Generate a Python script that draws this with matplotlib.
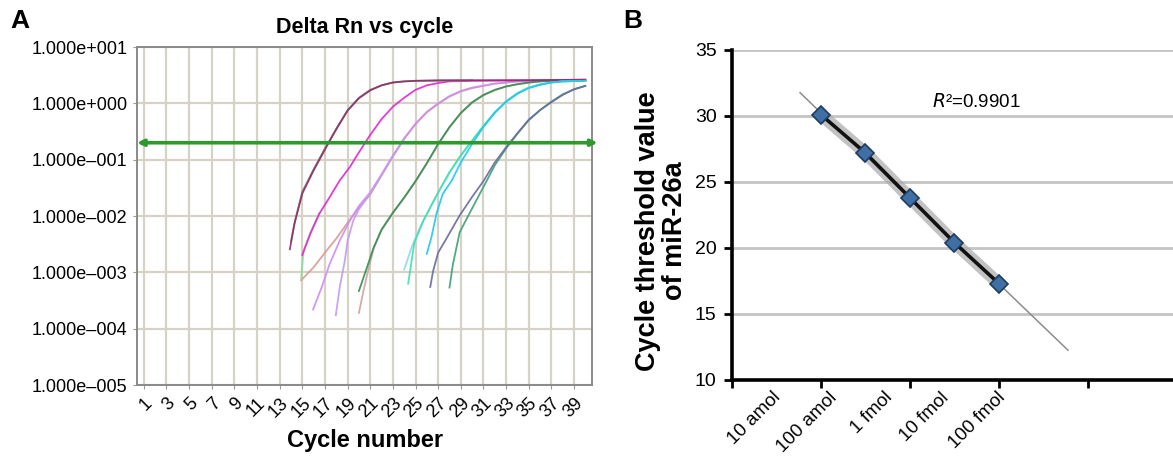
import numpy as np
import matplotlib
matplotlib.use('Agg')
import matplotlib.pyplot as plt
import matplotlib.transforms as mtransforms

plt.rcParams['font.family'] = ['Liberation Sans', 'DejaVu Sans']

# ---- panel A: amplification curves, log10(delta Rn) ----
maroon_x = [13.9, 14.3, 15, 16, 17, 18, 19, 20, 21, 22, 23, 24, 25, 27, 30, 35, 40]
maroon_y = [-2.59, -2.14, -1.60, -1.19, -0.82, -0.46, -0.13, 0.09, 0.23, 0.32, 0.37, 0.39, 0.40, 0.41, 0.41, 0.41, 0.42]
olive_x = [14.0, 14.4, 15, 16, 17, 18, 19, 20, 21, 22, 23, 24, 25, 27, 30]
olive_y = [-2.45, -2.05, -1.57, -1.17, -0.80, -0.45, -0.12, 0.10, 0.24, 0.32, 0.37, 0.39, 0.40, 0.40, 0.41]
lgreen_x = [14.9, 15.1, 15.7, 16.5]
lgreen_y = [-3.12, -2.62, -2.30, -1.95]
magenta_x = [15.0, 15.7, 16.5, 17.4, 18.3, 19.2, 20, 21, 22, 23, 24, 25, 26, 27, 28, 30, 35, 40]
magenta_y = [-2.69, -2.32, -1.96, -1.67, -1.37, -1.13, -0.87, -0.56, -0.28, -0.06, 0.10, 0.24, 0.32, 0.36, 0.39, 0.40, 0.41, 0.42]
salmon_x = [14.9, 16, 17, 18, 19, 20, 21, 22, 23, 24, 25, 26, 27, 28, 29, 30, 31, 32, 33, 34, 36, 40]
salmon_y = [-3.14, -2.91, -2.65, -2.40, -2.12, -1.85, -1.62, -1.28, -0.94, -0.63, -0.37, -0.16, -0.01, 0.12, 0.21, 0.27, 0.31, 0.35, 0.37, 0.39, 0.40, 0.41]
violet_x = [15.95, 16.7, 17.4, 18.3, 19.2, 20, 21, 22, 23, 24, 25, 26, 27, 28, 29, 30, 32, 34, 40]
violet_y = [-3.66, -3.27, -2.86, -2.44, -2.08, -1.82, -1.58, -1.26, -0.93, -0.62, -0.36, -0.15, 0.00, 0.13, 0.22, 0.28, 0.35, 0.39, 0.41]
lilac_x = [17.96, 18.3, 18.75, 19.0, 19.5, 20, 21, 22, 23, 24]
lilac_y = [-3.76, -3.27, -2.80, -2.44, -2.08, -1.88, -1.60, -1.27, -0.94, -0.63]
green_x = [20.0, 20.7, 21.3, 22, 23, 24, 25, 26, 27, 28, 29, 30, 31, 32, 33, 34, 35, 36, 38, 40]
green_y = [-3.33, -2.92, -2.56, -2.24, -1.94, -1.67, -1.38, -1.06, -0.72, -0.42, -0.17, 0.02, 0.15, 0.24, 0.30, 0.34, 0.37, 0.39, 0.40, 0.41]
pink_x = [20.0, 20.4, 20.8, 21.3, 22, 23, 24, 25, 26, 27, 28, 29, 30, 31, 32, 33, 34, 36]
pink_y = [-3.72, -3.33, -2.98, -2.58, -2.25, -1.95, -1.68, -1.39, -1.07, -0.73, -0.43, -0.18, 0.01, 0.14, 0.23, 0.30, 0.34, 0.39]
lblue_x = [24.0, 24.65, 25.4, 26.3, 27.1, 28, 29, 30, 31, 32, 33, 34, 35, 36, 37, 38, 40]
lblue_y = [-2.95, -2.56, -2.20, -1.85, -1.55, -1.24, -0.93, -0.67, -0.40, -0.16, 0.04, 0.18, 0.28, 0.34, 0.37, 0.39, 0.40]
mint_x = [24.35, 24.65, 24.9, 25.7, 26.6, 27.5, 28, 29, 30, 31, 32, 33, 34, 35, 36, 37, 38, 40]
mint_y = [-3.20, -2.80, -2.47, -2.08, -1.73, -1.40, -1.22, -0.92, -0.66, -0.40, -0.16, 0.03, 0.18, 0.28, 0.33, 0.37, 0.39, 0.40]
cyan_x = [26.0, 26.4, 26.85, 27.4, 28.2, 29, 30, 31, 32, 33, 34, 35, 36, 37, 38, 40]
cyan_y = [-2.67, -2.38, -1.96, -1.61, -1.37, -1.05, -0.72, -0.42, -0.17, 0.03, 0.17, 0.27, 0.33, 0.37, 0.39, 0.40]
slate_x = [26.3, 26.55, 27.0, 27.7, 28.9, 30, 31, 32, 33, 34, 35, 36, 37, 38, 39, 40]
slate_y = [-3.26, -2.98, -2.65, -2.41, -1.99, -1.66, -1.38, -1.05, -0.78, -0.53, -0.29, -0.12, 0.02, 0.15, 0.25, 0.31]
teal_x = [28.0, 28.3, 28.9, 29.8, 31.3, 32, 33, 34, 35, 36, 37, 38, 39, 40]
teal_y = [-3.27, -2.86, -2.29, -1.94, -1.37, -1.10, -0.80, -0.54, -0.30, -0.12, 0.03, 0.16, 0.25, 0.31]

threshold = 0.2
cycle_ticks = list(range(1, 40, 2))
decades = [1, 0, -1, -2, -3, -4, -5]

# ---- panel B: standard curve ----
conc_labels = ['10 amol', '100 amol', '1 fmol', '10 fmol', '100 fmol']
point_x = [2, 3, 4, 5, 6]
ct_values = [30.1, 27.2, 23.8, 20.4, 17.3]
r2_text = '0.9901'

fig = plt.figure(figsize=(11.73, 4.57), dpi=100)

# ================= panel A =================
axA = fig.add_axes([0.1168, 0.1575, 0.388, 0.7396])
grid_col = '#d6d2c6'
axA.set_yscale('log')
axA.set_xlim(0.4, 40.6)
axA.set_ylim(1e-5, 1e1)
for c in cycle_ticks:
    axA.axvline(c, color=grid_col, lw=1.6, zorder=0)
for d in decades:
    axA.axhline(10.0 ** d, color=grid_col, lw=1.6, zorder=0)

curves = [
    (salmon_x, salmon_y, '#d99a90'),
    (violet_x, violet_y, '#cf8cf5'),
    (lilac_x, lilac_y, '#c49af0'),
    (pink_x, pink_y, '#d4a2a2'),
    (green_x, green_y, '#2f8f50'),
    (lgreen_x, lgreen_y, '#8fd89a'),
    (magenta_x, magenta_y, '#e028d0'),
    (olive_x, olive_y, '#78906a'),
    (maroon_x, maroon_y, '#8e2f6e'),
    (lblue_x, lblue_y, '#8cd8f8'),
    (mint_x, mint_y, '#3ee0a8'),
    (cyan_x, cyan_y, '#20c8ee'),
    (teal_x, teal_y, '#3f9f78'),
    (slate_x, slate_y, '#6b6b9e'),
]
for xs, ys, col in curves:
    axA.plot(xs, 10.0 ** np.array(ys), color=col, lw=1.3, alpha=0.9,
             solid_joinstyle='round', zorder=2)

trans = mtransforms.blended_transform_factory(axA.transAxes, axA.transData)
axA.annotate('', xy=(1.012, threshold), xytext=(0.0, threshold),
             xycoords=trans, textcoords=trans,
             arrowprops=dict(arrowstyle='<|-|>', color='#2e9a2e', lw=2.6,
                             mutation_scale=9, shrinkA=0, shrinkB=0),
             annotation_clip=False, zorder=3)

axA.set_yticks([10.0 ** d for d in decades])
ylabels = []
for d in decades:
    sign = '+' if d >= 0 else '\u2013'
    ylabels.append('1.000e%s%03d' % (sign, abs(d)))
axA.set_yticklabels(ylabels, fontsize=13)
axA.yaxis.set_minor_locator(matplotlib.ticker.NullLocator())
axA.set_xticks(cycle_ticks)
axA.set_xticklabels([str(c) for c in cycle_ticks], fontsize=13, rotation=45,
                    ha='right', rotation_mode='anchor')
axA.tick_params(axis='both', length=3, color='#999999', pad=4)
axA.tick_params(axis='y', pad=4)
for sp in axA.spines.values():
    sp.set_color('#8a8a8a')
    sp.set_linewidth(1.4)

fig.text(0.311, 0.94, 'Delta Rn vs cycle', fontsize=15.5, fontweight='bold',
         ha='center', va='center')
fig.text(0.311, 0.037, 'Cycle number', fontsize=17, fontweight='bold',
         ha='center', va='center')
fig.text(0.009, 0.955, 'A', fontsize=19, fontweight='bold', ha='left', va='center')

# ================= panel B =================
axB = fig.add_axes([0.624, 0.1685, 0.376, 0.7221])
axB.set_xlim(0, 9.91)
axB.set_ylim(10, 35)
for v in range(15, 36, 5):
    axB.axhline(v, color='#c4c4c4', lw=2, zorder=0)

slope, intercept = np.polyfit(point_x, ct_values, 1)
fit_x = np.array([point_x[0] - 0.47, point_x[-1] + 1.55])
axB.plot(fit_x, slope * fit_x + intercept, color='#8c8c8c', lw=1.1, zorder=1)
axB.plot(point_x, ct_values, color='#a8a8a8', lw=9, alpha=0.7,
         solid_capstyle='round', zorder=2)
axB.plot(point_x, ct_values, color='#111111', lw=2.6, zorder=3)
axB.plot(point_x, ct_values, linestyle='none', marker='D', markersize=9.5,
         markerfacecolor='#3f6fa3', markeredgecolor='#1d3b60',
         markeredgewidth=1.2, zorder=4)

axB.text(0.553, 0.842, '$R$' + '\u00b2=' + r2_text, transform=axB.transAxes,
         fontsize=13.5, ha='center', va='center')

axB.set_yticks(range(10, 36, 5))
axB.set_yticklabels([str(v) for v in range(10, 36, 5)], fontsize=14)
axB.set_xticks([0, 2, 4, 6, 8])
axB.set_xticklabels([])
axB.tick_params(axis='both', direction='out', length=6, width=2, color='black')
axB.tick_params(axis='y', pad=5)
for side in ['top', 'right']:
    axB.spines[side].set_visible(False)
for side in ['left', 'bottom']:
    axB.spines[side].set_linewidth(2.6)
    axB.spines[side].set_color('black')
axB.spines['bottom'].set_zorder(5)

label_pos = 0.9 + 1.26 * np.arange(len(conc_labels))
lab_trans = mtransforms.offset_copy(
    mtransforms.blended_transform_factory(axB.transData, axB.transAxes),
    fig=fig, x=0, y=-9, units='dots')
for pos, lab in zip(label_pos, conc_labels):
    axB.text(pos, 0, lab, transform=lab_trans, fontsize=13.5, rotation=45,
             ha='right', va='top', rotation_mode='anchor')

fig.text(0.564, 0.495, 'Cycle threshold value\nof miR-26a', fontsize=19.5,
         fontweight='bold', rotation=90, ha='center', va='center',
         multialignment='center', linespacing=1.05)
fig.text(0.531, 0.955, 'B', fontsize=19, fontweight='bold', ha='left', va='center')

fig.savefig('out.png', dpi=100)
